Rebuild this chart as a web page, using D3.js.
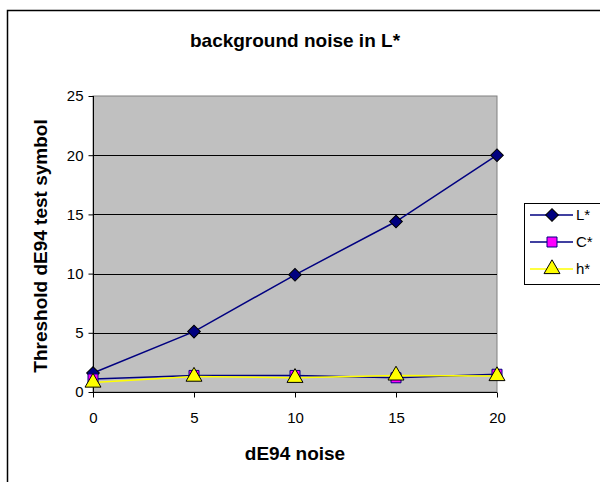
<!DOCTYPE html>
<html><head><meta charset="utf-8">
<script src="https://cdn.jsdelivr.net/npm/d3@7"></script>
<style>body{margin:0;background:#fff}svg{display:block}text{font-family:Arial,"Liberation Sans",sans-serif}</style>
</head><body>
<svg id="c" width="600" height="482"></svg>
<script>
const noise = [0, 5, 10, 15, 20];
const Lstar = [1.6, 5.1, 9.9, 14.4, 20.0];
const Cstar = [1.1, 1.4, 1.4, 1.2, 1.5];
const hstar = [0.8, 1.3, 1.2, 1.4, 1.35];
const yTicks = [0, 5, 10, 15, 20, 25];
const seriesNames = ["L*", "C*", "h*"];

const svg = d3.select("#c");
svg.append("rect").attr("x", 7.5).attr("y", 10.5).attr("width", 620).attr("height", 500)
  .attr("fill", "#fff").attr("stroke", "#000").attr("stroke-width", 1.5);

const L = 93, R = 497, T = 96, B = 392;
const x = d3.scaleLinear().domain([0, 20]).range([L, R]);
const y = d3.scaleLinear().domain([0, 25]).range([B, T]);

svg.append("rect").attr("x", L).attr("y", T).attr("width", R - L).attr("height", B - T)
  .attr("fill", "#c0c0c0").attr("stroke", "#808080").attr("stroke-width", 1);

svg.append("g").selectAll("line").data(yTicks.filter(d => d > 0 && d < 25)).join("line")
  .attr("x1", L).attr("x2", R).attr("y1", d => Math.round(y(d)) + 0.5).attr("y2", d => Math.round(y(d)) + 0.5)
  .attr("stroke", "#000").attr("stroke-width", 1);

const yAxis = d3.axisLeft(y).tickValues(yTicks).tickSize(5).tickPadding(5);
const gy = svg.append("g").attr("transform", `translate(${L + 0.5},0)`).call(yAxis);
const xAxis = d3.axisBottom(x).tickValues(noise).tickSize(5).tickPadding(15);
const gx = svg.append("g").attr("transform", `translate(0,${B + 0.5})`).call(xAxis);
[gx, gy].forEach(g => {
  g.attr("font-size", null).attr("font-family", null);
  g.select(".domain").attr("stroke", "#000");
  g.selectAll(".tick line").attr("stroke", "#000");
  g.selectAll("text").style("font-size", "15px").attr("fill", "#000");
});
gy.select(".domain").attr("d", `M0,${B}V${T}`);
gx.select(".domain").attr("d", `M${L},0H${R}`);

const line = d3.line().x((d, i) => x(noise[i])).y(d => y(d));
const styles = [
  {data: Lstar, stroke: "#000080", sym: d3.symbolSquare, size: 80, rot: 45, fill: "#000080", ms: "#000"},
  {data: Cstar, stroke: "#000080", sym: d3.symbolSquare, size: 100, rot: 0, fill: "#ff00ff", ms: "#000080"},
  {data: hstar, stroke: "#ffff00", sym: d3.symbolTriangle, size: 110, rot: 0, fill: "#ffff00", ms: "#000"}
];
styles.forEach(s => {
  svg.append("path").datum(s.data).attr("d", line).attr("fill", "none")
    .attr("stroke", s.stroke).attr("stroke-width", 1.5);
});
styles.forEach(s => {
  svg.append("g").selectAll("path").data(s.data).join("path")
    .attr("transform", (d, i) => `translate(${x(noise[i])},${y(d)}) rotate(${s.rot})`)
    .attr("d", d3.symbol(s.sym, s.size)).attr("fill", s.fill).attr("stroke", s.ms).attr("stroke-width", 1);
});

svg.append("text").attr("x", 295).attr("y", 47).attr("text-anchor", "middle")
  .style("font-size", "19px").attr("font-weight", "bold").text("background noise in L*");
svg.append("text").attr("x", 295).attr("y", 460).attr("text-anchor", "middle")
  .style("font-size", "19px").attr("font-weight", "bold").text("dE94 noise");
svg.append("text").attr("transform", "translate(47,246) rotate(-90)").attr("text-anchor", "middle")
  .style("font-size", "19px").attr("font-weight", "bold").text("Threshold dE94 test symbol");

const lg = svg.append("g");
lg.append("rect").attr("x", 524.5).attr("y", 203.5).attr("width", 80).attr("height", 81)
  .attr("fill", "#fff").attr("stroke", "#000").attr("stroke-width", 1);
styles.forEach((s, i) => {
  const yy = 215 + i * 27;
  lg.append("line").attr("x1", 530).attr("x2", 573).attr("y1", yy).attr("y2", yy)
    .attr("stroke", s.stroke).attr("stroke-width", 1.5);
  lg.append("path").attr("transform", `translate(552,${yy}) rotate(${s.rot})`).attr("d", d3.symbol(s.sym, s.size))
    .attr("fill", s.fill).attr("stroke", s.ms).attr("stroke-width", 1);
  lg.append("text").attr("x", 576).attr("y", yy + 5).style("font-size", "15px").text(seriesNames[i]);
});
</script>
</body></html>
